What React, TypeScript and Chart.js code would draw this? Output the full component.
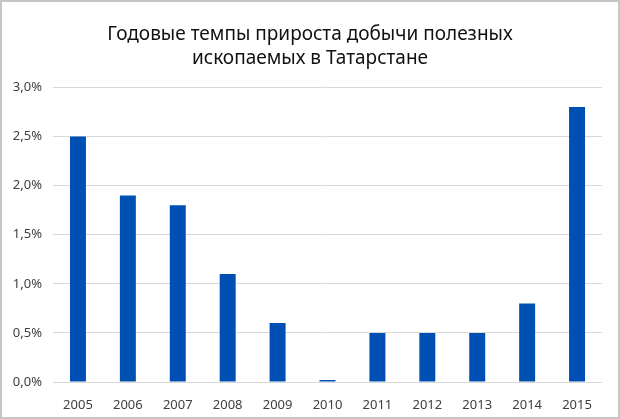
import React, { useEffect, useRef } from "react";
import { Chart, registerables } from "chart.js";

Chart.register(...registerables);

const years = ["2005", "2006", "2007", "2008", "2009", "2010", "2011", "2012", "2013", "2014", "2015"];
const growth = [2.5, 1.9, 1.8, 1.1, 0.6, 0.02, 0.5, 0.5, 0.5, 0.8, 2.8];
const titleLines = ["Годовые темпы прироста добычи полезных", "ископаемых в Татарстане"];

const borderPlugin = {
  id: "frameBorder",
  afterDraw(chart: any) {
    const { ctx, width, height } = chart;
    ctx.save();
    ctx.strokeStyle = "#c6c6c6";
    ctx.lineWidth = 2;
    ctx.strokeRect(1, 1, width - 2, height - 2);
    ctx.restore();
  },
};

export default function App() {
  const ref = useRef<HTMLCanvasElement>(null);
  useEffect(() => {
    if (!ref.current) return;
    const chart = new Chart(ref.current, {
      type: "bar",
      data: {
        labels: years,
        datasets: [
          {
            data: growth,
            backgroundColor: "#0050b4",
            barPercentage: 0.32,
            categoryPercentage: 1,
          },
        ],
      },
      options: {
        animation: false,
        responsive: false,
        layout: { padding: 0 },
        plugins: {
          legend: { display: false },
          tooltip: { enabled: false },
          title: {
            display: true,
            text: titleLines,
            color: "#111111",
            font: { family: "Noto Sans", size: 19, weight: "normal", lineHeight: 1.3 },
            padding: { top: 22, bottom: 16 },
          },
        },
        scales: {
          x: {
            grid: { display: false, drawTicks: false },
            border: { display: false },
            ticks: {
              color: "#404040",
              font: { family: "Noto Sans", size: 13 },
              padding: 15,
            },
            afterFit: (s: any) => {
              s.height = 37;
            },
          },
          y: {
            min: 0,
            max: 3,
            grid: { color: "#d9d9d9", drawTicks: false, lineWidth: 1 },
            border: { display: false },
            ticks: {
              stepSize: 0.5,
              color: "#404040",
              font: { family: "Noto Sans", size: 13 },
              padding: 11,
              callback: (v: any) => Number(v).toFixed(1).replace(".", ",") + "%",
            },
            afterFit: (s: any) => {
              s.width = 53;
            },
          },
          yPad: {
            position: "right",
            min: 0,
            max: 1,
            grid: { display: false, drawTicks: false },
            border: { display: false },
            ticks: { display: false },
            afterFit: (s: any) => {
              s.width = 18;
            },
          },
        },
      },
      plugins: [borderPlugin],
    });
    return () => chart.destroy();
  }, []);
  return (
    <div style={{ position: "absolute", left: 0, top: 0, width: 620, height: 419 }}>
      <canvas ref={ref} width={620} height={419} style={{ display: "block" }} />
    </div>
  );
}
